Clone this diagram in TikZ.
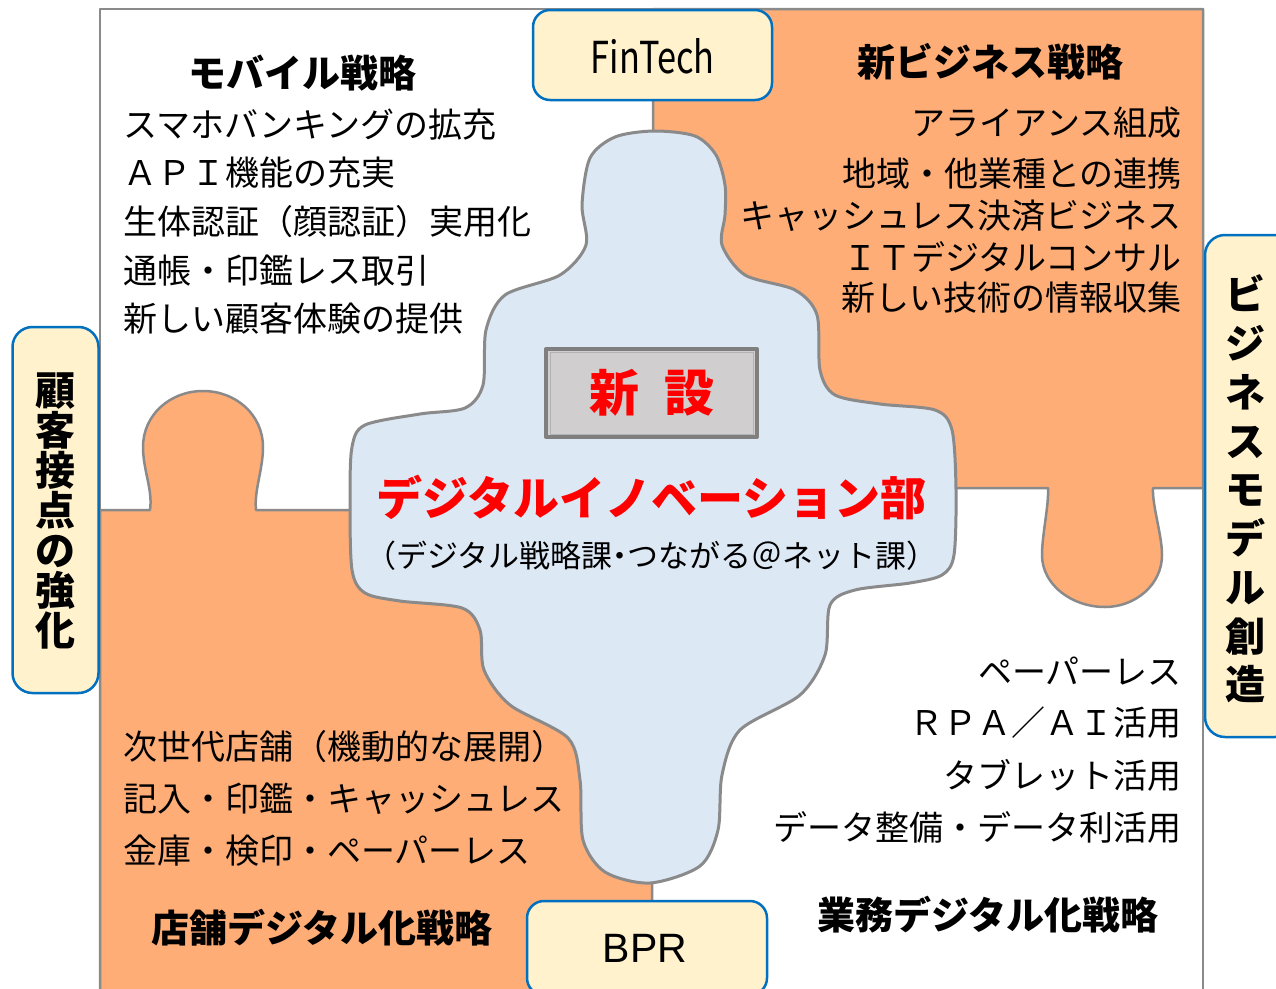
\documentclass[tikz,border=0pt]{standalone}
\usepackage{fontspec}
\setmainfont{Noto Sans CJK JP}
\newfontfamily\latinf{Liberation Sans}
\newcommand\jfs[2]{\fontsize{#1}{#2}\selectfont}
\definecolor{orng}{HTML}{FFAD77}
\definecolor{blobfill}{HTML}{DDE8F5}
\definecolor{edge}{HTML}{8A8A8A}
\definecolor{tagfill}{HTML}{FFF2CC}
\definecolor{tagblue}{HTML}{0070C0}
\definecolor{bevelfill}{HTML}{D0CECE}
\definecolor{bevelline}{HTML}{7F7F7F}
\definecolor{redtxt}{HTML}{FF0000}
\begin{document}
\begin{tikzpicture}[x=1pt,y=-1pt,line join=round,
  region/.style={fill=orng, draw=edge, line width=2.5pt},
  frame/.style={draw=edge, line width=2.5pt},
  blob/.style={fill=blobfill, draw=edge, line width=3pt},
  tag/.style={draw=tagblue, fill=tagfill, line width=2.5pt, rounded corners=17pt, inner sep=0pt},
  item/.style={font=\jfs{34}{34}, inner sep=0pt, text=black},
  head/.style={font=\bfseries\jfs{38}{38}, inner sep=0pt},
  vtext/.style={font=\bfseries\jfs{40}{40}, align=center, inner sep=0pt}]
\clip (0,0) rectangle (1276,988);
\fill[white] (0,0) rectangle (1276,988);
% orange puzzle regions
\draw[region] (653,9) -- (1203,9) -- (1203,488) -- (1153,488)
  .. controls (1152,505) and (1162,535) .. (1162,555)
  .. controls (1162,585) and (1135,607) .. (1105,607)
  .. controls (1072,607) and (1042,585) .. (1042,555)
  .. controls (1042,535) and (1049,505) .. (1048,488) -- (653,488) -- cycle;
\draw[region] (100,510) -- (150,510)
  .. controls (153,490) and (143,470) .. (143,447)
  .. controls (143,415) and (170,391) .. (203,391)
  .. controls (236,391) and (263,415) .. (263,447)
  .. controls (263,470) and (254,490) .. (256,510) -- (652,510) -- (652,1000) -- (100,1000) -- cycle;
% outer frame
\draw[frame] (100,1000) -- (100,9) -- (1203,9) -- (1203,1000);
% central piece
\draw[blob] plot[smooth cycle, tension=0.5] coordinates {
 (654,131) (695,136) (716,155) (725,185) (725,215) (722,245) (745,275) (795,290)
 (817,315) (820,370) (835,395) (880,404) (935,410) (952,430) (956,490) (954,555)
 (942,575) (910,583) (855,590) (830,605) (825,655) (800,695) (740,730) (722,775)
 (718,830) (700,866) (650,883) (605,872) (583,840) (580,780) (568,738) (510,705)
 (484,670) (480,630) (462,608) (400,601) (365,593) (352,570) (350,500) (352,447)
 (365,425) (420,414) (465,408) (483,385) (486,330) (505,295) (560,275) (586,245)
 (582,205) (590,158) (615,137)};
% new box
\node[fill=bevelfill, draw=bevelline, line width=4pt, minimum width=211pt, minimum height=88pt] (shinsetsu) at (651.5,393) {};
\draw[bevelline!60, line width=1pt] (550,352) rectangle (753,434);
\node[font=\bfseries\jfs{50}{50}, text=redtxt, inner sep=0pt] (shinlbl) at (651.5,393) {新\hspace{0.5em}設};
\node[font=\bfseries\jfs{46}{46}, text=redtxt, inner sep=0pt] (bu) at (651.5,498) {デジタルイノベーション部};
\node[font=\jfs{31}{31}, inner sep=0pt] (ka) at (651.5,556) {（デジタル戦略課\kern-0.25em・\kern-0.25em つながる＠ネット課）};
% top-left
\node[head] (h1) at (302,73) {モバイル戦略};
\node[item, anchor=west] (a1) at (123,125) {スマホバンキングの拡充};
\node[item, anchor=west] (a2) at (123,173) {ＡＰＩ機能の充実};
\node[item, anchor=west] (a3) at (123,222) {生体認証（顔認証）実用化};
\node[item, anchor=west] (a4) at (123,271) {通帳・印鑑レス取引};
\node[item, anchor=west] (a5) at (123,319) {新しい顧客体験の提供};
% top-right
\node[head] (h2) at (990,62) {新ビジネス戦略};
\node[item, anchor=east] (b1) at (1182,123) {アライアンス組成};
\node[item, anchor=east] (b2) at (1182,174) {地域・他業種との連携};
\node[item, anchor=east] (b3) at (1182,216) {キャッシュレス決済ビジネス};
\node[item, anchor=east] (b4) at (1182,257) {ＩＴデジタルコンサル};
\node[item, anchor=east] (b5) at (1182,298) {新しい技術の情報収集};
% bottom-left
\node[item, anchor=west] (c1) at (123,747) {次世代店舗（機動的な展開）};
\node[item, anchor=west] (c2) at (123,799) {記入・印鑑・キャッシュレス};
\node[item, anchor=west] (c3) at (123,851) {金庫・検印・ペーパーレス};
\node[head] (h3) at (322,928) {店舗デジタル化戦略};
% bottom-right
\node[item, anchor=east] (d1) at (1182,671) {ペーパーレス};
\node[item, anchor=east] (d2) at (1182,723) {ＲＰＡ／ＡＩ活用};
\node[item, anchor=east] (d3) at (1182,775) {タブレット活用};
\node[item, anchor=east] (d4) at (1182,827) {データ整備・データ利活用};
\node[head] (h4) at (988,915) {業務デジタル化戦略};
% tags
\node[tag, minimum width=239pt, minimum height=90pt] (fintech) at (652.5,55) {};
\node[font=\jfs{44}{44}, inner sep=0pt] (fintechlbl) at (652.5,56) {\scalebox{0.78}[1]{FinTech}};
\node[tag, minimum width=240pt, minimum height=94pt] (bpr) at (647,948) {};
\node[font=\latinf\fontsize{41}{41}\selectfont, inner sep=0pt] (bprlbl) at (645,948) {BPR};
\node[tag, rounded corners=20pt, minimum width=86pt, minimum height=366pt] (kokyaku) at (55.5,510) {};
\node[vtext] (kokyakulbl) at (55,511) {顧\\客\\接\\点\\の\\強\\化};
\node[tag, rounded corners=20pt, minimum width=90pt, minimum height=502pt] (bizmodel) at (1250,486) {};
\node[vtext, font=\bfseries\jfs{40}{48.75}] (bizlbl) at (1245,489) {ビ\\ジ\\ネ\\ス\\モ\\デ\\ル\\創\\造};
\end{tikzpicture}
\end{document}
